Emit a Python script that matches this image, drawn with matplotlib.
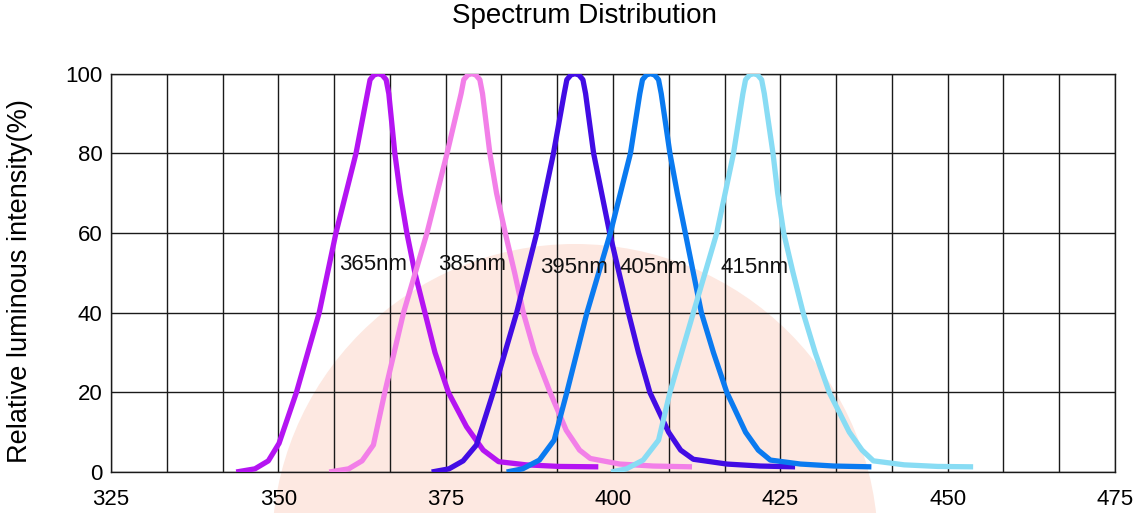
import matplotlib
matplotlib.use("Agg")
import matplotlib.pyplot as plt
from matplotlib.patches import Ellipse
from matplotlib.ticker import MultipleLocator

plt.rcParams['font.family'] = ['Liberation Sans', 'DejaVu Sans']

# wavelength (nm) / relative intensity (%) for each LED
wl_365 = [343.7, 346.5, 348.5, 350.1, 352.7, 356.1, 358.6, 361.6, 363.3, 363.7, 364.3, 364.9,
          365.5, 366.1, 366.5, 367.4, 368.2, 369.2, 370.4, 371.9, 373.4, 375.4, 378.1,
          380.6, 382.9, 387.0, 392.0, 397.8]
int_365 = [0, 0.8, 2.8, 7.2, 20, 40, 60, 80, 95, 98.5, 99.7, 100,
           99.7, 98.5, 95, 80, 70, 60, 50, 40, 30, 20, 11.4,
           5.5, 2.6, 1.8, 1.4, 1.3]

wl_385 = [357.6, 360.5, 362.5, 364.2, 365.9, 368.7, 372.2, 375.2, 377.3, 377.7, 378.3, 378.9,
          379.5, 380.1, 380.5, 381.6, 382.6, 383.9, 385.3, 386.6, 388.3, 390.6, 393.0,
          395.0, 396.6, 401.0, 406.0, 411.8]
int_385 = [0, 0.8, 2.8, 6.8, 20, 40, 60, 80, 95, 98.5, 99.7, 100,
           99.7, 98.5, 95, 80, 70, 60, 50, 40, 30, 20, 10.5,
           5.5, 3.4, 2.0, 1.5, 1.3]

wl_395 = [372.9, 375.5, 377.6, 379.6, 382.1, 385.6, 388.6, 391.1, 392.7, 393.1, 393.7, 394.3,
          394.9, 395.5, 395.9, 397.1, 398.3, 399.5, 400.9, 402.3, 403.8, 405.5, 408.3,
          410.1, 412.0, 417.0, 422.0, 427.2]
int_395 = [0, 0.8, 2.8, 6.8, 20, 40, 60, 80, 95, 98.5, 99.7, 100,
           99.7, 98.5, 95, 80, 70, 60, 50, 40, 30, 20, 10,
           5.5, 3.2, 2.0, 1.5, 1.3]

wl_405 = [384.1, 386.5, 389.0, 391.2, 393.1, 396.1, 399.6, 402.6, 404.0, 404.4, 405.0, 405.6,
          406.2, 406.8, 407.2, 408.5, 409.6, 410.8, 412.0, 413.2, 415.0, 417.0, 419.8,
          421.7, 423.5, 428.0, 433.0, 438.6]
int_405 = [0, 0.8, 3.0, 8.0, 20, 40, 60, 80, 95, 98.5, 99.7, 100,
           99.7, 98.5, 95, 80, 70, 60, 50, 40, 30, 20, 10,
           5.5, 3.0, 2.0, 1.5, 1.3]

wl_415 = [399.7, 402.0, 404.5, 406.8, 408.5, 412.0, 415.5, 418.0, 419.4, 419.8, 420.4, 421.0,
          421.6, 422.2, 422.6, 423.9, 424.6, 425.5, 426.9, 428.4, 430.2, 432.3, 435.3,
          437.2, 438.9, 443.5, 448.5, 453.8]
int_415 = [0, 0.8, 3.0, 8.0, 20, 40, 60, 80, 95, 98.5, 99.7, 100,
           99.7, 98.5, 95, 80, 70, 60, 50, 40, 30, 20, 10,
           5.5, 2.8, 1.8, 1.4, 1.3]

labels = ['365nm', '385nm', '395nm', '405nm', '415nm']
label_x = [364.2, 378.9, 394.2, 406.1, 421.2]
label_y = [52.2, 52.2, 51.3, 51.3, 51.3]
colors = ['#B414F2', '#F27FE8', '#420CE4', '#0A7AF0', '#88DCF4']

fig = plt.figure(figsize=(11.4, 5.13), dpi=100)
ax = fig.add_axes([0.0974, 0.0799, 0.8807, 0.7764])
ax.set_facecolor('none')

# faint logo disc behind the plot
fig.patches.append(Ellipse((575 / 1140, 1 - 547 / 513), 606 / 1140, 606 / 513,
                           transform=fig.transFigure, facecolor='#FDE8E1',
                           edgecolor='none', zorder=-1))

series = [(wl_365, int_365), (wl_385, int_385), (wl_395, int_395),
          (wl_405, int_405), (wl_415, int_415)]
for (x, y), c in zip(series, colors):
    ax.plot(x, y, color=c, lw=3.8, solid_joinstyle='round', solid_capstyle='butt', zorder=3)

for t, x, y in zip(labels, label_x, label_y):
    ax.text(x, y, t, ha='center', va='center', fontsize=16, color='#111111', zorder=4)

ax.set_xlim(325, 475)
ax.set_ylim(0, 100)
ax.xaxis.set_major_locator(MultipleLocator(25))
ax.xaxis.set_minor_locator(MultipleLocator(25 / 3))
ax.yaxis.set_major_locator(MultipleLocator(20))
ax.grid(True, which='both', color='#1a1a1a', lw=1.0, zorder=1)
ax.set_axisbelow(True)
ax.tick_params(which='both', length=0, labelsize=16)
ax.tick_params(axis='x', pad=12)
ax.tick_params(axis='y', pad=6)
for s in ax.spines.values():
    s.set_color('#1a1a1a')
    s.set_linewidth(1.0)

ax.set_ylabel('Relative luminous intensity(%)', fontsize=19.5, labelpad=7)
ax.yaxis.set_label_coords(-0.078, 0.48)
fig.suptitle('Spectrum Distribution', fontsize=20, x=0.513, y=0.995, va='top')

fig.savefig('out.png', dpi=100)
